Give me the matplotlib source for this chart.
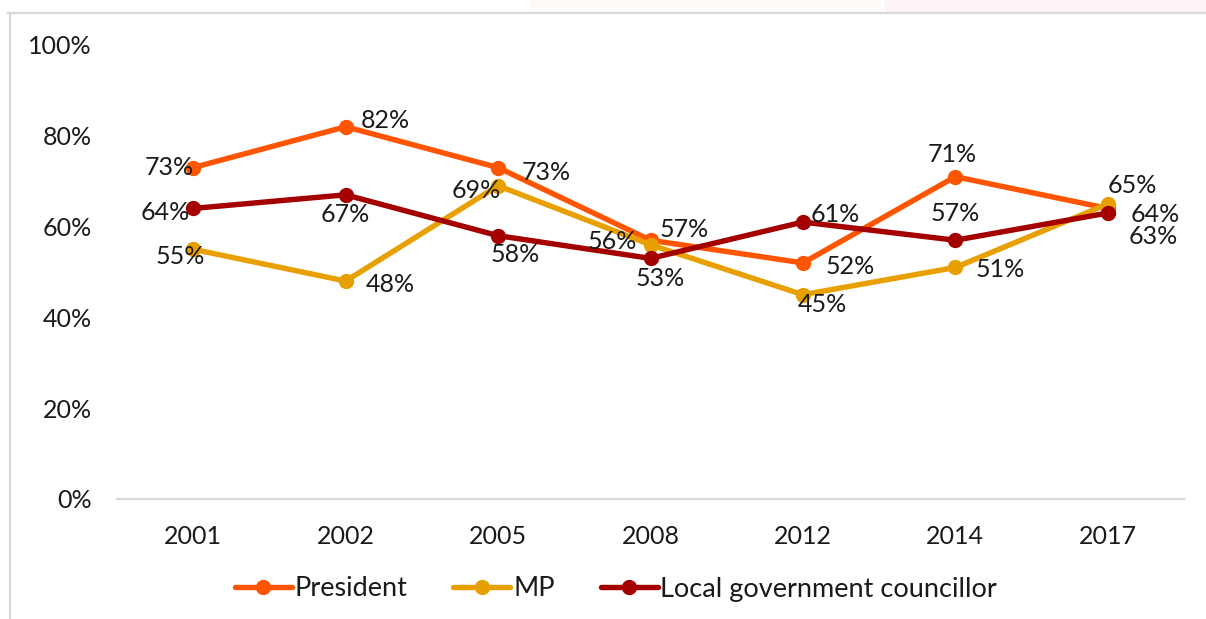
import matplotlib
matplotlib.use("Agg")
import matplotlib.pyplot as plt
from matplotlib.lines import Line2D
from matplotlib.patches import Rectangle
from matplotlib.ticker import PercentFormatter

# Survey years and shares (percent)
years = ["2001", "2002", "2005", "2008", "2012", "2014", "2017"]
president = [73, 82, 73, 57, 52, 71, 64]
mp = [55, 48, 69, 56, 45, 51, 65]
councillor = [64, 67, 58, 53, 61, 57, 63]

series_names = ["President", "MP", "Local government councillor"]
colors = ["#FF5500", "#E8A000", "#A50000"]

# Label offsets (pixels) for each data label, per series
offsets = [
    [(-24, 0), (40, 6), (48, -5), (34, 11), (47, -4), (-3, 22), (47, -6)],
    [(-13, -7), (45, -3), (-22, -5), (-38, 3), (19, -10), (45, -2), (25, 18)],
    [(-28, -4), (0, -20), (17, -19), (10, -20), (32, 8), (0, 27), (45, -24)],
]

FS = 18
plt.rcParams["font.family"] = ["Lato", "DejaVu Sans"]
W, H = 1206, 619
fig = plt.figure(figsize=(W / 100, H / 100), dpi=100)
fig.patch.set_facecolor("white")

# faint backdrop strip above the chart frame
fig.patches.append(Rectangle((530 / W, 1 - 12 / H), 350 / W, 12 / H,
                             transform=fig.transFigure, color="#FEFAF8", zorder=0))
fig.patches.append(Rectangle((885 / W, 1 - 12 / H), (W - 885) / W, 12 / H,
                             transform=fig.transFigure, color="#FDF5F5", zorder=0))
# chart frame (top and left edges)
fig.lines.append(Line2D([8 / W, 1], [1 - 12.5 / H, 1 - 12.5 / H],
                        transform=fig.transFigure, color="#D9D9D9", lw=1.6))
fig.lines.append(Line2D([9.5 / W, 9.5 / W], [0, 1 - 12.5 / H],
                        transform=fig.transFigure, color="#D9D9D9", lw=1.6))

left, right = 117 / W, 1184 / W
bottom, top = 1 - 499 / H, 1 - 45 / H
ax = fig.add_axes([left, bottom, right - left, top - bottom])
ax.set_facecolor("none")

x = list(range(len(years)))
for name, vals, col, offs in zip(series_names, [president, mp, councillor], colors, offsets):
    ax.plot(x, [v / 100 for v in vals], color=col, lw=3.9, marker="o",
            markersize=10, label=name, solid_capstyle="round", clip_on=False)
    for xi, v, (dx, dy) in zip(x, vals, offs):
        ax.annotate(f"{v}%", (xi, v / 100), xytext=(dx, dy), textcoords="offset pixels",
                    ha="center", va="center", fontsize=FS, color="#1A1A1A")

ax.set_xlim(-0.5, len(years) - 0.5)
ax.set_ylim(0, 1)
ax.set_xticks(x)
ax.set_xticklabels(years)
ax.set_yticks([0, 0.2, 0.4, 0.6, 0.8, 1.0])
ax.yaxis.set_major_formatter(PercentFormatter(1.0, decimals=0))
ax.tick_params(axis="both", length=0, labelsize=FS, colors="#1A1A1A")
ax.tick_params(axis="x", pad=19)
ax.tick_params(axis="y", pad=18)
for s in ["top", "right", "left"]:
    ax.spines[s].set_visible(False)
ax.spines["bottom"].set_color("#D9D9D9")
ax.spines["bottom"].set_linewidth(1.6)

fig.legend(loc="center", bbox_to_anchor=(616 / W, 1 - 589 / H), ncol=3, frameon=False,
           fontsize=FS + 1.5, handlelength=2.1, handletextpad=0.1, columnspacing=1.7,
           labelcolor="#1A1A1A")

fig.savefig("out.png", dpi=100, facecolor="white")
